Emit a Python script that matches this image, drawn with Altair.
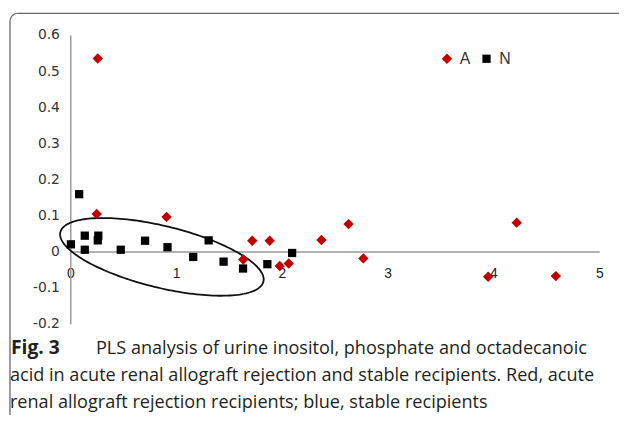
import math
import altair as alt
import numpy as np
import pandas as pd

# ---- data ----
a_x = [0.26, 0.25, 0.91, 1.72, 1.885, 1.635, 1.98, 2.065, 2.374, 2.63, 2.77, 3.95, 4.22, 4.59]
a_y = [0.535, 0.104, 0.096, 0.030, 0.030, -0.022, -0.040, -0.033, 0.032, 0.076, -0.019, -0.070, 0.080, -0.068]
n_x = [0.084, 0.006, 0.137, 0.137, 0.265, 0.26, 0.477, 0.707, 0.919, 1.162, 1.308, 1.449, 1.633, 1.863, 2.097]
n_y = [0.159, 0.020, 0.044, 0.005, 0.044, 0.031, 0.005, 0.030, 0.012, -0.015, 0.031, -0.028, -0.047, -0.035, -0.004]
groups = ["A", "N"]
x_ticks = [0, 1, 2, 3, 4, 5]
y_ticks = [-0.2, -0.1, 0.0, 0.1, 0.2, 0.3, 0.4, 0.5, 0.6]
caption_bold = "Fig. 3"
caption_1 = "PLS analysis of urine inositol, phosphate and octadecanoic"
caption_2 = "acid in acute renal allograft rejection and stable recipients. Red, acute"
caption_3 = "renal allograft rejection recipients; blue, stable recipients"

# ellipse annotation (center in data units, semi-axes in pixels, tilt in degrees)
ell_cx, ell_cy = 0.866, -0.0148
ell_a_px, ell_b_px, ell_tilt = 105.7, 31.2, 13.7

W, H = 535, 292
px_x = W / 5.0
px_y = H / 0.8

pts = pd.DataFrame({
    "x": a_x + n_x,
    "y": a_y + n_y,
    "group": ["A"] * len(a_x) + ["N"] * len(n_x),
})

t = np.linspace(0, 2 * np.pi, 181)
th = math.radians(ell_tilt)
dxp = ell_a_px * np.cos(t) * math.cos(th) - ell_b_px * np.sin(t) * math.sin(th)
dyp = ell_a_px * np.cos(t) * math.sin(th) + ell_b_px * np.sin(t) * math.cos(th)
ell = pd.DataFrame({"x": ell_cx + dxp / px_x, "y": ell_cy - dyp / px_y, "o": np.arange(len(t))})

xscale = alt.Scale(domain=[0, 5], nice=False, zero=False)
yscale = alt.Scale(domain=[-0.2, 0.6], nice=False, zero=False)
xaxis = alt.Axis(values=x_ticks, offset=-73, domainColor="#9a9a9a", domainWidth=1.5,
                 ticks=False, grid=False, labelPadding=15, labelFont="Liberation Sans",
                 labelFontSize=14, labelColor="#222222", labelFlush=False, title=None)
yaxis = alt.Axis(values=y_ticks, domainColor="#9a9a9a", domainWidth=1.5, ticks=False,
                 grid=False, labelPadding=11, labelFont="DejaVu Sans", labelFontSize=14,
                 labelColor="#333333", labelFlush=False, title=None,
                 labelExpr="datum.value == 0 ? '0' : replace(format(datum.value, '.1f'), '\u2212', '-')")

leg = alt.Legend(orient="none", legendX=373, legendY=16, direction="horizontal", title=None,
                 labelFont="Liberation Sans", labelFontSize=16, labelColor="#333333",
                 labelOffset=5, columnPadding=8, symbolStrokeWidth=0, symbolOpacity=1)

points = alt.Chart(pts).mark_point(filled=True, opacity=1, strokeWidth=0).encode(
    x=alt.X("x:Q", scale=xscale, axis=xaxis),
    y=alt.Y("y:Q", scale=yscale, axis=yaxis),
    color=alt.Color("group:N", scale=alt.Scale(domain=groups, range=["#C00000", "#000000"]), legend=leg),
    shape=alt.Shape("group:N", scale=alt.Scale(domain=groups, range=["diamond", "square"]), legend=leg),
    size=alt.Size("group:N", scale=alt.Scale(domain=groups, range=[110, 70]), legend=leg),
)

ellipse = alt.Chart(ell).mark_line(color="#111111", strokeWidth=1.8).encode(
    x=alt.X("x:Q", scale=xscale, axis=xaxis),
    y=alt.Y("y:Q", scale=yscale, axis=yaxis),
    order="o:Q",
)

one = alt.Data(values=[{"k": 1}])
frame_col = "#666666"
top_rule = alt.Chart(one).mark_rule(color=frame_col, strokeWidth=1.3).encode(
    x=alt.value(-53), x2=alt.value(600), y=alt.value(-22))
left_rule = alt.Chart(one).mark_rule(color=frame_col, strokeWidth=1.3).encode(
    x=alt.value(-61), y=alt.value(-14), y2=alt.value(420))
corner = alt.Chart(one).mark_arc(theta=3 * math.pi / 2, theta2=2 * math.pi, radius=8.6,
                                 radius2=7.4, color=frame_col).encode(
    x=alt.value(-53), y=alt.value(-14))

cap_style = dict(align="left", baseline="alphabetic", font="Open Sans", fontSize=18.3, color="#231f20")
cap0 = alt.Chart(one).mark_text(text=caption_bold, fontWeight="bold", **{**cap_style, "fontSize": 19.5}).encode(
    x=alt.value(-60), y=alt.value(323))
cap1 = alt.Chart(one).mark_text(text=caption_1, **cap_style).encode(
    x=alt.value(26), y=alt.value(323))
cap2 = alt.Chart(one).mark_text(text=caption_2, **cap_style).encode(
    x=alt.value(-61), y=alt.value(350))
cap3 = alt.Chart(one).mark_text(text=caption_3, **cap_style).encode(
    x=alt.value(-61), y=alt.value(377))

chart = alt.layer(ellipse, points, top_rule, left_rule, corner, cap0, cap1, cap2, cap3).properties(
    width=W, height=H,
    autosize=alt.AutoSizeParams(type="none"),
    padding={"left": 63, "top": 25, "right": 20, "bottom": 90},
).configure_view(stroke=None)

chart.save("out.html", embed_options={"renderer": "svg", "actions": False})
